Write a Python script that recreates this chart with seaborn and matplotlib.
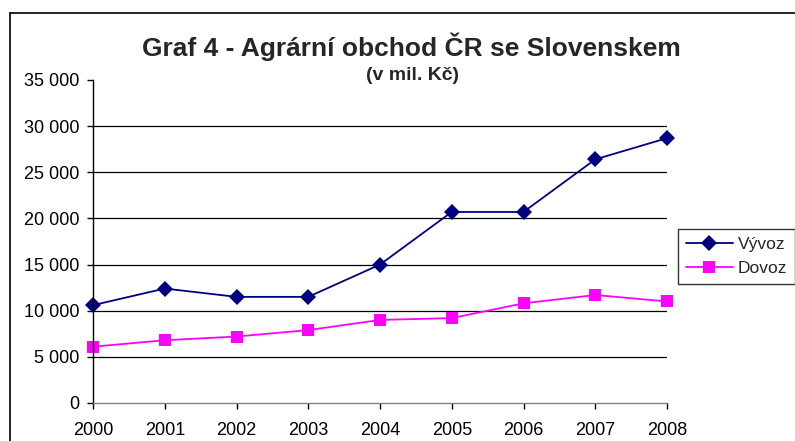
import pandas as pd
import matplotlib.pyplot as plt
import seaborn as sns
from matplotlib.ticker import FuncFormatter

# Données (mil. Kč)
roky = [2000, 2001, 2002, 2003, 2004, 2005, 2006, 2007, 2008]
vyvoz = [10600, 12400, 11500, 11500, 15000, 20700, 20700, 26400, 28700]
dovoz = [6100, 6800, 7200, 7900, 9000, 9200, 10800, 11700, 11000]
serie = ["Vývoz", "Dovoz"]

df = pd.DataFrame({
    "rok": roky * 2,
    "hodnota": vyvoz + dovoz,
    "serie": [serie[0]] * len(roky) + [serie[1]] * len(roky),
})

sns.set_style("white")
plt.rcParams["font.family"] = ["Liberation Sans", "DejaVu Sans"]

fig = plt.figure(figsize=(7.95, 4.41), dpi=100)
ax = fig.add_axes([0.117, 0.0862, 0.722, 0.7324])

sns.lineplot(data=df, x="rok", y="hodnota", hue="serie", style="serie",
             palette={"Vývoz": "#000080", "Dovoz": "#FF00FF"},
             markers={"Vývoz": "D", "Dovoz": "s"}, dashes=False,
             markersize=8, markeredgewidth=0, linewidth=1.3, ax=ax)
for ln in ax.lines:
    ln.set_clip_on(False)

ax.set_xlim(2000, 2008)
ax.set_ylim(0, 35000)
ax.set_xticks(roky)
ax.set_yticks(range(0, 35001, 5000))
ax.yaxis.set_major_formatter(FuncFormatter(lambda v, p: f"{int(v):,}".replace(",", " ")))
ax.tick_params(axis="both", direction="out", length=4, width=1, colors="black",
               labelsize=13, left=True, bottom=True)
ax.tick_params(axis="x", pad=10)
ax.tick_params(axis="y", pad=6)
ax.set_xlabel("")
ax.set_ylabel("")

for y in range(5000, 30001, 5000):
    ax.axhline(y, color="black", linewidth=0.9, zorder=0)
for s in ["top", "right"]:
    ax.spines[s].set_visible(False)
ax.spines["left"].set_color("black")
ax.spines["left"].set_linewidth(1)
ax.spines["bottom"].set_color("#808080")
ax.spines["bottom"].set_linewidth(1)

fig.text(0.518, 0.893, "Graf 4 - Agrární obchod ČR se Slovenskem", ha="center",
         va="center", fontsize=19, fontweight="bold")
fig.text(0.519, 0.828, "(v mil. Kč)", ha="center", va="center",
         fontsize=14, fontweight="bold")

leg = ax.legend(loc="upper left", bbox_to_anchor=(678 / 795, 1 - 229 / 441),
                bbox_transform=fig.transFigure, frameon=True, fancybox=False,
                fontsize=12.5, borderpad=0.45, handlelength=2.7, handletextpad=0.3,
                labelspacing=0.5, borderaxespad=0)
leg.get_frame().set_edgecolor("black")
leg.get_frame().set_linewidth(1)

# rámeček grafu
fig.add_artist(plt.Line2D([10 / 795, 10 / 795], [0, 1 - 13 / 441], color="black", linewidth=1.2))
fig.add_artist(plt.Line2D([10 / 795, 1], [1 - 13 / 441, 1 - 13 / 441], color="black", linewidth=1.2))

fig.savefig("out.png", dpi=100)
